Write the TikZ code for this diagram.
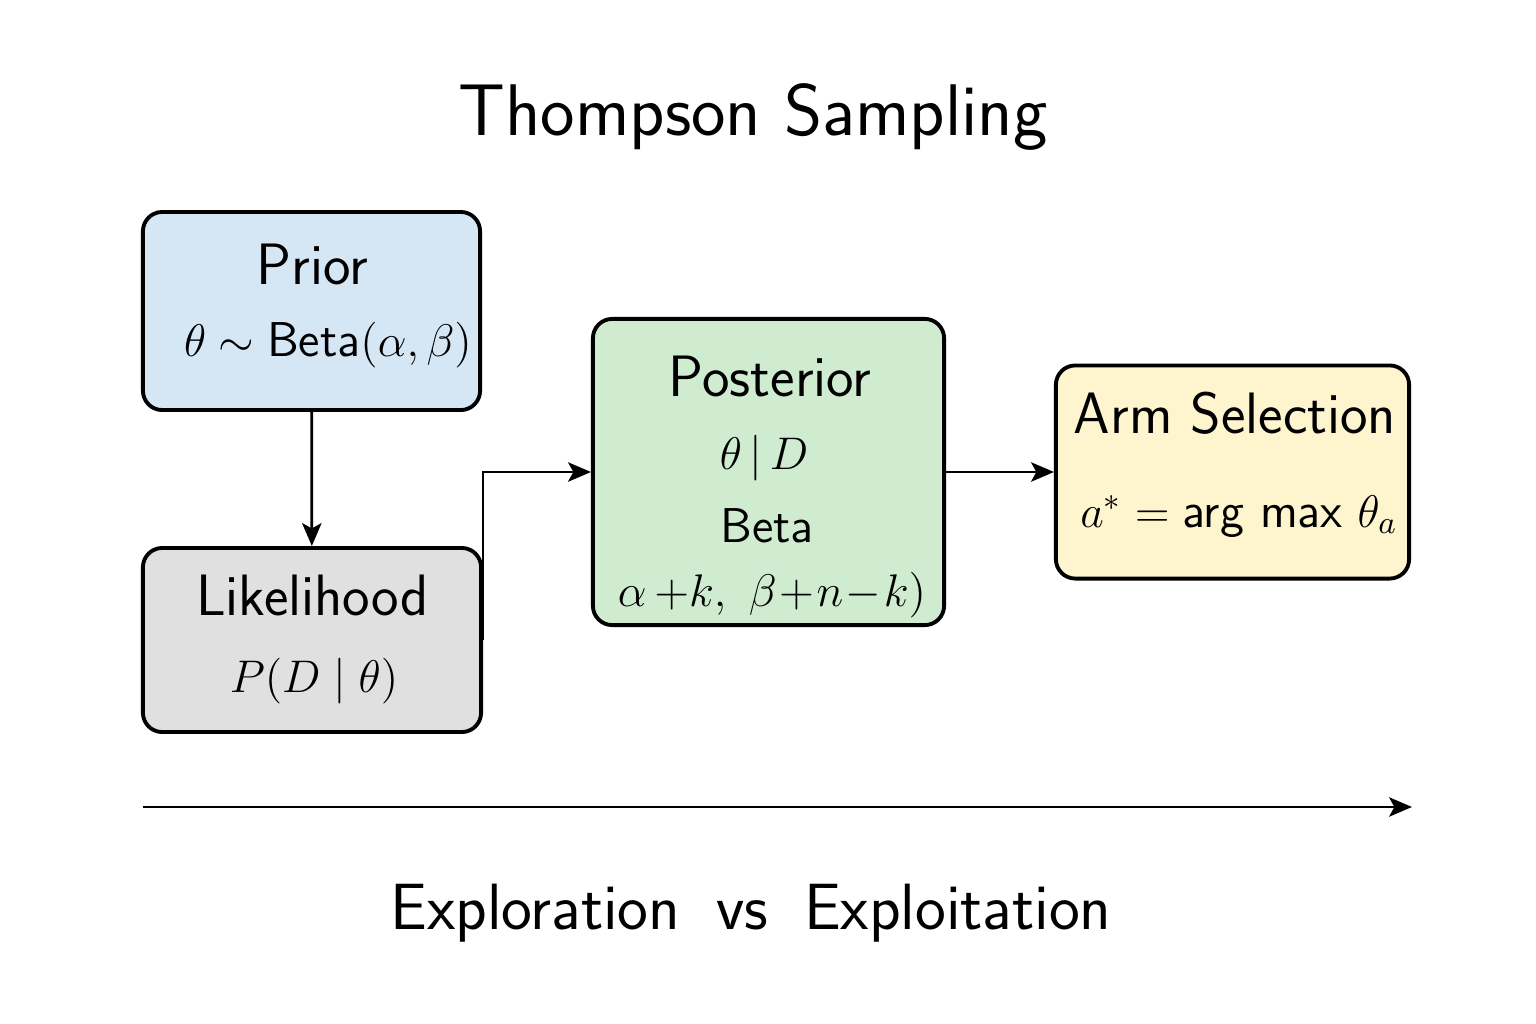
\RequirePackage{fix-cm}
\documentclass[tikz,border=0pt]{standalone}
\usepackage{amsmath}
\usetikzlibrary{arrows.meta}
\renewcommand{\familydefault}{\sfdefault}
\definecolor{priorblue}{RGB}{213,230,245}
\definecolor{likegray}{RGB}{224,224,224}
\definecolor{postgreen}{RGB}{208,236,208}
\definecolor{armyellow}{RGB}{254,245,207}
\newcommand{\sfw}[1]{\text{\fontsize{13.9}{16}\selectfont #1}}
\begin{document}
\begin{tikzpicture}[x=0.01cm, y=-0.01cm,
    box/.style={draw, line width=1.1pt, rounded corners=5.5pt, inner sep=0pt},
    lbl/.style={anchor=base, font=\fontsize{16.6}{20}\selectfont},
    frm/.style={anchor=base, font=\fontsize{13}{16}\selectfont},
    conn/.style={line width=0.8pt, -{Stealth[length=6.5pt,width=5.5pt,inset=1.5pt]}}]
        \useasboundingbox (0,0) rectangle (1536,1024);
        \node[anchor=base, font=\fontsize{20.8}{25}\selectfont] (title) at (753,135) {Thompson Sampling};

        % boxes
        \node[box, fill=priorblue, minimum width=3.37cm, minimum height=1.98cm] (prior) at (311.5,311) {};
        \node[box, fill=likegray, minimum width=3.38cm, minimum height=1.84cm] (lik) at (312,640) {};
        \node[box, fill=postgreen, minimum width=3.51cm, minimum height=3.06cm] (post) at (768.5,472) {};
        \node[box, fill=armyellow, minimum width=3.53cm, minimum height=2.13cm] (arm) at (1232.5,472) {};

        % texts
        \node[lbl] (priorT) at (312,284) {Prior};
        \node[frm] (priorF) at (328,356) {$\theta \sim \sfw{Beta}(\alpha,\beta)$};
        \node[lbl] (likT) at (312.5,615) {Likelihood};
        \node[frm] (likF) at (314,692) {$P(D \mid \theta)$};
        \node[lbl] (postT) at (770,396) {Posterior};
        \node[frm] (postF) at (764,469) {$\theta\,|\,D$};
        \node[frm] (postB) at (767,542) {\sfw{Beta}};
        \node[frm] (postP) at (772,606) {$\alpha\,{+}k,\ \beta\!+\!n\!-\!k)$};
        \node[lbl] (armT) at (1235,433) {Arm Selection};
        \node[frm] (armF) at (1239,527) {$a^{*} = \sfw{arg max}\ \theta_a$};

        % arrows
        \draw[conn] (prior) -- (lik);
        \draw[conn] (lik.east) |- (post.west);
        \draw[conn] (post) -- (arm);

        % bottom axis
        \coordinate (axL) at (143,807);
        \coordinate (axR) at (1412,807);
        \draw[conn] (axL) -- (axR);
        \node[anchor=base, font=\fontsize{18.6}{22}\selectfont] (trade) at (751,929)
            {Exploration\hspace{0.55em}vs\hspace{0.55em}Exploitation};
\end{tikzpicture}
\end{document}
